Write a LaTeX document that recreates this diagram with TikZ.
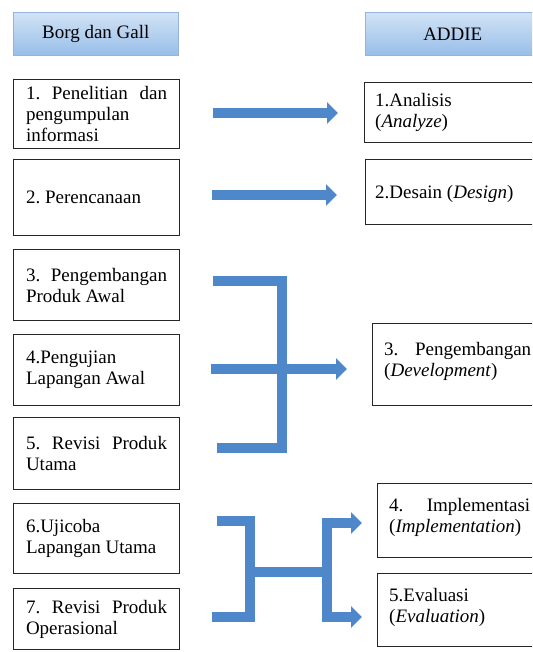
\documentclass[tikz,border=0pt]{standalone}
\usepackage{fontspec}
\setmainfont{Liberation Serif}
\usetikzlibrary{arrows.meta}
\definecolor{arrblue}{RGB}{78,136,203}
\definecolor{hdrtop}{RGB}{210,227,246}
\definecolor{hdrbot}{RGB}{152,190,232}
\definecolor{hdredge}{RGB}{150,180,215}
\hyphenpenalty=10000
\tolerance=10000
\frenchspacing
\begin{document}
\begin{tikzpicture}[x=1pt,y=-1pt,
  font=\fontsize{19}{21}\selectfont,
  hdr/.style={anchor=north west, top color=hdrtop, bottom color=hdrbot, draw=hdredge, line width=0.6pt, inner sep=0pt},
  lbox/.style={anchor=north west, draw=black!85, line width=1pt, minimum width=166pt, text width=141pt, align=justify, inner xsep=0pt},
  rbox/.style={anchor=north west, draw=black!85, line width=1pt, minimum width=200pt, inner sep=0pt},
  rtxt/.style={anchor=west, text width=141pt, align=justify, inner sep=0pt},
  arr/.style={draw=arrblue, line width=10pt, line cap=butt, -{Triangle[length=11pt,width=21pt]}},
  arrb/.style={draw=arrblue, line width=10pt, line cap=butt, line join=miter, {Triangle[length=11pt,width=21pt]}-{Triangle[length=11pt,width=21pt]}},
  bar/.style={draw=arrblue, line width=9.5pt, line cap=butt, line join=miter}]
\useasboundingbox (0,0) rectangle (532,652);
\clip (0,0) rectangle (532,652);
% headers
\node[hdr, minimum width=165pt, minimum height=43pt] (H1) at (13,12) {Borg dan Gall};
\node[hdr, minimum width=180pt, minimum height=43pt] (H2) at (365,12) {\hspace*{-5pt}ADDIE};
% left column
\node[lbox, minimum height=69pt] (L1) at (13,79) {1. Penelitian dan\linebreak pengumpulan\\informasi};
\node[lbox, minimum height=76pt] (L2) at (13,159) {2. Perencanaan};
\node[lbox, minimum height=71pt] (L3) at (13,249) {3. Pengembangan\linebreak Produk Awal};
\node[lbox, minimum height=71pt] (L4) at (13,334) {4.Pengujian\\Lapangan Awal};
\node[lbox, minimum height=72pt] (L5) at (13,417) {5. Revisi Produk\linebreak Utama};
\node[lbox, minimum height=70pt] (L6) at (13,503) {6.Ujicoba\\Lapangan Utama};
\node[lbox, minimum height=61pt] (L7) at (13,588) {7. Revisi Produk\linebreak Operasional};
% right column
\node[rbox, minimum height=60pt] (R1) at (364,82) {};
\node[rtxt] (R1t) at ([xshift=11pt]R1.west) {1.Analisis\\(\textit{Analyze})};
\node[rbox, minimum height=65pt] (R2) at (365,159) {};
\node[rtxt] (R2t) at ([xshift=10pt,yshift=-2pt]R2.west) {2.Desain (\textit{Design})};
\node[rbox, minimum height=82pt] (R3) at (372,323) {};
\node[rtxt, text width=147pt] (R3t) at ([xshift=12pt,yshift=3pt]R3.west) {3. Pengembangan\linebreak (\textit{Development})};
\node[rbox, minimum height=74pt] (R4) at (377,483) {};
\node[rtxt] (R4t) at ([xshift=12pt,yshift=3pt]R4.west) {4. Implementasi\linebreak (\textit{Implementation})};
\node[rbox, minimum height=73pt] (R5) at (377,573) {};
\node[rtxt] (R5t) at ([xshift=12pt,yshift=3pt]R5.west) {5.Evaluasi\\(\textit{Evaluation})};
% arrow coordinates
\coordinate (a1s) at (213,113);
\coordinate (a1e) at (338,113);
\coordinate (a2s) at (212,195);
\coordinate (a2e) at (337,195);
\coordinate (b1a) at (213,281);
\coordinate (b1b) at (282,281);
\coordinate (b1c) at (282,448);
\coordinate (b1d) at (217,448);
\coordinate (b1m) at (211,369);
\coordinate (b1e) at (347,369);
\coordinate (c1a) at (217,521);
\coordinate (c1b) at (250,521);
\coordinate (c1c) at (250,617);
\coordinate (c1d) at (212,617);
\coordinate (c1m) at (250,572);
\coordinate (c1n) at (327,572);
\coordinate (c2a) at (362,523);
\coordinate (c2b) at (327,523);
\coordinate (c2c) at (327,617);
\coordinate (c2d) at (362,617);
% arrows
\draw[arr] (a1s) -- (a1e);
\draw[arr] (a2s) -- (a2e);
\draw[bar] (b1a) -- (b1b) -- (b1c) -- (b1d);
\draw[arr] (b1m) -- (b1e);
\draw[bar] (c1a) -- (c1b) -- (c1c) -- (c1d);
\draw[bar] (c1m) -- (c1n);
\draw[arrb] (c2a) -- (c2b) -- (c2c) -- (c2d);
\end{tikzpicture}
\end{document}
